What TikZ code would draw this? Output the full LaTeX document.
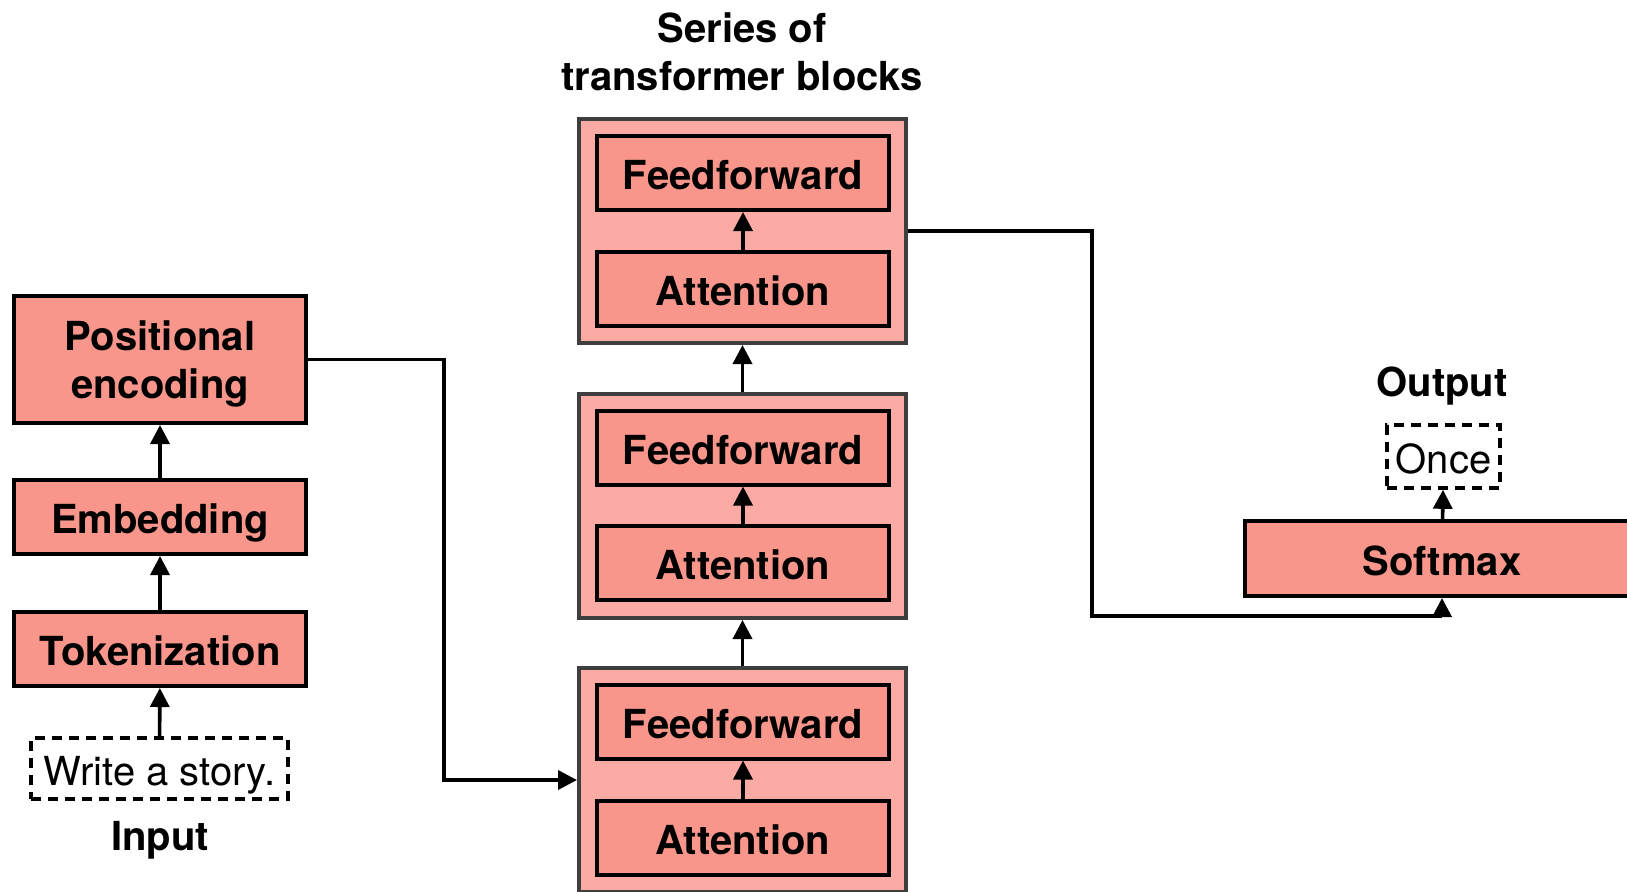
\documentclass[tikz,border=0pt]{standalone}
\usepackage{fontspec}
\setmainfont{TeX Gyre Heros}
\usetikzlibrary{arrows.meta,positioning}
\definecolor{boxred}{RGB}{249,150,140}
\definecolor{blockred}{RGB}{251,170,164}
\definecolor{blockgray}{RGB}{62,62,62}
\tikzset{
  stagebox/.style={draw=black,line width=2pt,fill=boxred,font=\bfseries\fontsize{20}{24}\selectfont,minimum width=146pt,minimum height=37pt,inner sep=0pt,align=center,text height=16.8pt,text depth=0pt},
  blockbox/.style={draw=blockgray,line width=2pt,fill=blockred,minimum width=163.5pt,minimum height=112pt,inner sep=0pt},
  textbox/.style={draw=black,line width=1.8pt,dash pattern=on 5pt off 3.5pt,font=\fontsize{20}{24}\selectfont,inner sep=0pt,text height=16.8pt,text depth=0pt},
  caption/.style={font=\bfseries\fontsize{20}{24}\selectfont,align=center},
  arr/.style={line width=1.8pt,-{Triangle[length=9.5pt,width=9.5pt]}}
}
\begin{document}
\begin{tikzpicture}[x=0.5pt,y=-0.5pt]
\useasboundingbox (0,0) rectangle (1627,891);
\node[stagebox,minimum height=63.5pt,text height={},text depth=0pt] (pe) at (160,359.5) {Positional\\encoding};
\node[stagebox] (emb) at (160,517) {Embedding};
\node[stagebox] (tok) at (160,649) {Tokenization};
\node[textbox,minimum width=128.5pt,minimum height=30.5pt] (inp) at (159.5,768.5) {Write a story.};
\node[caption] (inlabel) at (160,840) {Input};
\node[blockbox] (b1) at (742.5,780) {};
\node[blockbox] (b2) at (742.5,506) {};
\node[blockbox] (b3) at (742.5,231) {};
\node[stagebox] (ff1) at (743,721.5) {Feedforward};
\node[stagebox] (att1) at (743,838) {Attention};
\node[stagebox] (ff2) at (743,447.5) {Feedforward};
\node[stagebox] (att2) at (743,563) {Attention};
\node[stagebox] (ff3) at (743,173) {Feedforward};
\node[stagebox] (att3) at (743,288.5) {Attention};
\node[caption] (title) at (742,52) {Series of\\transformer blocks};
\node[stagebox,minimum width=197pt,minimum height=37.5pt] (soft) at (1442,558.5) {Softmax};
\node[textbox,minimum width=56.5pt,minimum height=31.5pt] (once) at (1443.5,456.5) {Once};
\node[caption] (outlabel) at (1442,386) {Output};
\coordinate (bendin) at (444,360);
\coordinate (bendout) at (1092,616);
\draw[arr] (inp) -- (tok);
\draw[arr] (tok) -- (emb);
\draw[arr] (emb) -- (pe);
\draw[arr] (pe.east) -| (bendin) |- (b1.west);
\draw[arr] (att1) -- (ff1);
\draw[arr] (att2) -- (ff2);
\draw[arr] (att3) -- (ff3);
\draw[arr] (b1) -- (b2);
\draw[arr] (b2) -- (b3);
\draw[arr] (b3.east |- 0,231) -| (bendout) -| (soft.south);
\draw[arr] (soft) -- (once);
\end{tikzpicture}
\end{document}
